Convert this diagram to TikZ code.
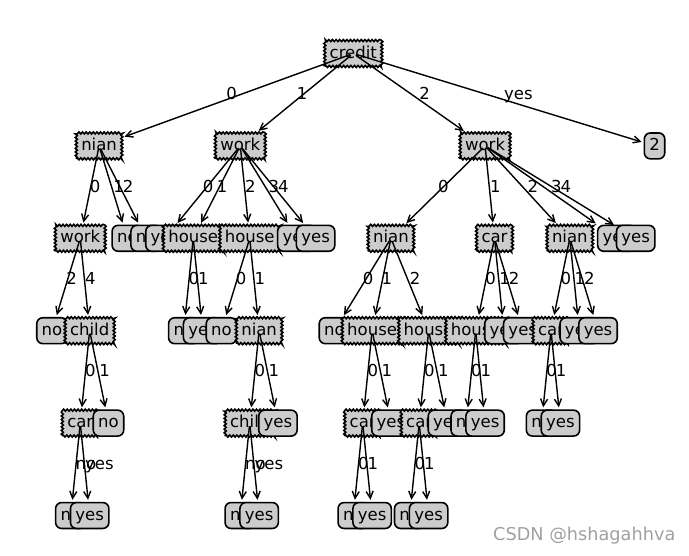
\documentclass[tikz,border=0pt]{standalone}
\usepackage{fontspec}
\setmainfont{DejaVu Sans}
\usetikzlibrary{arrows.meta,decorations.pathmorphing,calc}
\definecolor{boxgray}{HTML}{CCCCCC}
\definecolor{wmgray}{HTML}{A0A0A0}
\newcommand\nfont{\fontsize{16.5}{19}\selectfont}
\tikzset{
  base/.style={rectangle, inner xsep=4.95pt, inner ysep=4.95pt, text height=12.5pt, text depth=3.5pt, font=\nfont, line width=1.6pt},
  dec/.style={base, draw=black, fill=boxgray, decorate, decoration={zigzag, segment length=3.6pt, amplitude=1pt}},
  leaf/.style={base, draw=black, fill=boxgray, rounded corners=6pt},
  ghost/.style={base, draw=none, fill=none},
  edge/.style={line width=1.4pt, -{Straight Barb[length=7pt,width=7pt]}, shorten <=3pt, shorten >=2pt},
  elab/.style={anchor=base west, inner sep=0pt, font=\nfont}
}
% name, style, slot, level, text, parent, edge label
\newcommand\TN[7]{%
  \node[ghost] (#1) at ({52+(#3-1)*18.83},{53.5+#4*92.4}) {\phantom{#5}};
  \coordinate (#1-m) at ($(#6.center)!0.5!(#1.center)$);
  \node[elab] (#1-lab) at (#1-m) {#7};
  \draw[edge] (#6.center) -- (#1);
  \node[#2] (#1-box) at (#1.center) {#5};
}
\begin{document}
\begin{tikzpicture}[x=1pt,y=-1pt]
\useasboundingbox (0,0) rectangle (689,555);
\node[ghost] (root) at ({52+16*18.83},53.5) {\phantom{credit}};
\node[dec] (root-box) at (root.center) {credit};
% key 0
\TN{nA}{dec}{3.5}{1}{nian}{root}{0}
\TN{wA}{dec}{2.5}{2}{work}{nA}{0}
\TN{l1}{leaf}{1}{3}{no}{wA}{2}
\TN{cA}{dec}{3}{3}{child}{wA}{4}
\TN{caA}{dec}{2.5}{4}{car}{cA}{0}
\TN{l2}{leaf}{2}{5}{no}{caA}{no}
\TN{l3}{leaf}{3}{5}{yes}{caA}{yes}
\TN{l4}{leaf}{4}{4}{no}{cA}{1}
\TN{l5}{leaf}{5}{2}{no}{nA}{1}
\TN{l6}{leaf}{6}{2}{no}{nA}{2}
% key 1
\TN{wB}{dec}{11}{1}{work}{root}{1}
\TN{l7}{leaf}{7}{2}{yes}{wB}{0}
\TN{hB1}{dec}{8.5}{2}{house}{wB}{1}
\TN{l8}{leaf}{8}{3}{no}{hB1}{0}
\TN{l9}{leaf}{9}{3}{yes}{hB1}{1}
\TN{hB2}{dec}{11.5}{2}{house}{wB}{2}
\TN{l10}{leaf}{10}{3}{no}{hB2}{0}
\TN{nB}{dec}{12}{3}{nian}{hB2}{1}
\TN{chB}{dec}{11.5}{4}{child}{nB}{0}
\TN{l11}{leaf}{11}{5}{no}{chB}{no}
\TN{l12}{leaf}{12}{5}{yes}{chB}{yes}
\TN{l13}{leaf}{13}{4}{yes}{nB}{1}
\TN{l14}{leaf}{14}{2}{yes}{wB}{3}
\TN{l15}{leaf}{15}{2}{yes}{wB}{4}
% key 2
\TN{wC}{dec}{24}{1}{work}{root}{2}
\TN{nC}{dec}{19}{2}{nian}{wC}{0}
\TN{l16}{leaf}{16}{3}{no}{nC}{0}
\TN{hC1}{dec}{18}{3}{house}{nC}{1}
\TN{caC1}{dec}{17.5}{4}{car}{hC1}{0}
\TN{l17}{leaf}{17}{5}{no}{caC1}{0}
\TN{l18}{leaf}{18}{5}{yes}{caC1}{1}
\TN{l19}{leaf}{19}{4}{yes}{hC1}{1}
\TN{hC2}{dec}{21}{3}{house}{nC}{2}
\TN{caC2}{dec}{20.5}{4}{car}{hC2}{0}
\TN{l20}{leaf}{20}{5}{no}{caC2}{0}
\TN{l21}{leaf}{21}{5}{yes}{caC2}{1}
\TN{l22}{leaf}{22}{4}{yes}{hC2}{1}
\TN{carC}{dec}{24.5}{2}{car}{wC}{1}
\TN{hC3}{dec}{23.5}{3}{house}{carC}{0}
\TN{l23}{leaf}{23}{4}{no}{hC3}{0}
\TN{l24}{leaf}{24}{4}{yes}{hC3}{1}
\TN{l25}{leaf}{25}{3}{yes}{carC}{1}
\TN{l26}{leaf}{26}{3}{yes}{carC}{2}
\TN{nD}{dec}{28.5}{2}{nian}{wC}{2}
\TN{caD}{dec}{27.5}{3}{car}{nD}{0}
\TN{l27}{leaf}{27}{4}{no}{caD}{0}
\TN{l28}{leaf}{28}{4}{yes}{caD}{1}
\TN{l29}{leaf}{29}{3}{yes}{nD}{1}
\TN{l30}{leaf}{30}{3}{yes}{nD}{2}
\TN{l31}{leaf}{31}{2}{yes}{wC}{3}
\TN{l32}{leaf}{32}{2}{yes}{wC}{4}
% key yes
\TN{l33}{leaf}{33}{1}{2}{root}{yes}
% watermark
\node[anchor=base west, inner sep=0pt, text=wmgray, font=\fontsize{17.7}{20}\selectfont] (wm) at (493,540) {CSDN @hshagahhva};
\end{tikzpicture}
\end{document}
